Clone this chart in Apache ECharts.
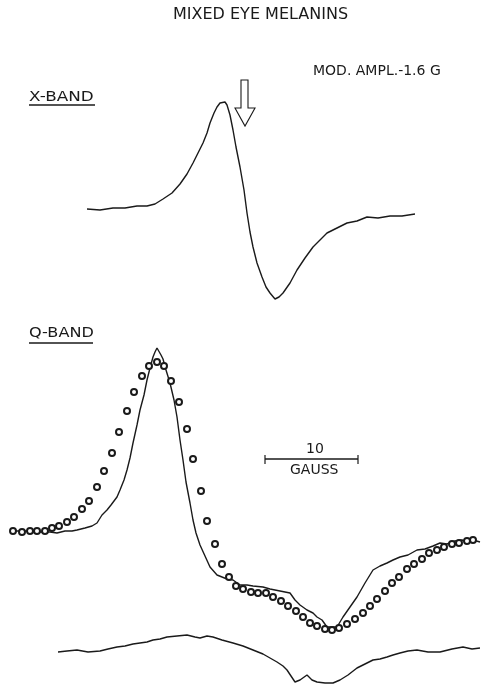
<!DOCTYPE html>
<html>
<head>
<meta charset="utf-8">
<script src="https://cdn.jsdelivr.net/npm/echarts@6/dist/echarts.min.js"></script>
<style>
  html, body { margin: 0; padding: 0; background: #fff; }
  #main { width: 483px; height: 684px; }
</style>
</head>
<body>
<div id="main"></div>
<script>
// traces, in page units (x right, y down)
var xBandX = [87, 100, 113, 125, 137, 147, 155, 163, 172, 180, 187, 193, 198, 203, 207, 210, 214, 217, 220, 222, 225, 227, 230, 233, 236, 240, 244, 247, 250, 253, 257, 262, 266, 270, 275, 279, 283, 290, 297, 305, 313, 320, 327, 337, 347, 357, 367, 378, 390, 402, 415];
var xBandY = [209, 210, 208, 208, 206, 206, 204, 199, 193, 184, 174, 163, 153, 143, 133, 123, 113, 107, 103, 101, 102, 105, 115, 130, 147, 167, 190, 213, 232, 247, 263, 277, 287, 293, 299, 297, 293, 283, 270, 258, 247, 240, 233, 228, 223, 221, 217, 218, 216, 216, 214];

var qBandX = [12, 25, 37, 50, 57, 65, 72, 77, 85, 92, 97, 102, 107, 111, 117, 120, 124, 127, 130, 133, 137, 140, 144, 147, 150, 153, 155, 157, 159, 161, 163, 166, 170, 174, 177, 180, 183, 186, 190, 193, 196, 200, 205, 210, 217, 227, 233, 240, 247, 253, 263, 270, 280, 290, 295, 300, 307, 313, 317, 322, 327, 333, 337, 343, 350, 357, 365, 373, 380, 387, 393, 400, 408, 417, 425, 433, 440, 447, 455, 462, 467, 473, 480];
var qBandY = [531, 531, 532, 532, 533, 531, 531, 530, 528, 526, 523, 515, 510, 505, 497, 490, 480, 470, 458, 443, 425, 410, 395, 380, 368, 357, 352, 348, 350, 355, 359, 370, 383, 400, 417, 440, 460, 482, 503, 520, 533, 545, 556, 567, 575, 579, 580, 585, 585, 586, 587, 589, 591, 593, 600, 605, 610, 613, 617, 620, 627, 627, 627, 617, 607, 597, 583, 570, 566, 563, 560, 557, 555, 550, 549, 546, 543, 544, 541, 540, 542, 540, 542];

var fitX = [13, 22, 30, 37, 45, 52, 59, 67, 74, 82, 89, 97, 104, 112, 119, 127, 134, 142, 149, 157, 164, 171, 179, 187, 193, 201, 207, 215, 222, 229, 236, 243, 251, 258, 266, 273, 281, 288, 296, 303, 310, 317, 325, 332, 339, 347, 355, 363, 370, 377, 385, 392, 399, 407, 414, 422, 429, 437, 444, 452, 459, 467, 473];
var fitY = [531, 532, 531, 531, 531, 528, 526, 522, 517, 509, 501, 487, 471, 453, 432, 411, 392, 376, 366, 362, 366, 381, 402, 429, 459, 491, 521, 544, 564, 577, 586, 589, 592, 593, 593, 597, 601, 606, 611, 617, 623, 626, 629, 630, 628, 624, 619, 613, 606, 599, 591, 583, 577, 569, 564, 559, 553, 550, 547, 544, 543, 541, 540];

var diffX = [58, 67, 77, 88, 100, 108, 117, 125, 133, 140, 147, 153, 160, 167, 177, 187, 195, 200, 207, 213, 222, 233, 243, 253, 263, 270, 277, 283, 287, 291, 295, 300, 307, 312, 317, 325, 333, 340, 348, 357, 365, 373, 380, 387, 393, 400, 408, 417, 428, 440, 452, 463, 472, 480];
var diffY = [652, 651, 650, 652, 651, 649, 647, 646, 644, 643, 642, 640, 639, 637, 636, 635, 637, 638, 636, 637, 640, 643, 646, 650, 654, 658, 662, 666, 670, 676, 682, 680, 675, 680, 682, 683, 683, 680, 675, 668, 664, 660, 659, 657, 655, 653, 651, 650, 652, 652, 649, 647, 649, 648];

var ink = '#1a1a1a';
var font = '"DejaVu Sans", sans-serif';

function pairs(xs, ys) {
  return xs.map(function (x, i) { return [x, ys[i]]; });
}

var chart = echarts.init(document.getElementById('main'));
chart.setOption({
  backgroundColor: '#fff',
  animation: false,
  grid: { left: 0, right: 0, top: 0, bottom: 0 },
  xAxis: { type: 'value', min: 0, max: 483, show: false },
  yAxis: { type: 'value', min: 0, max: 684, inverse: true, show: false },
  series: [
    {
      name: 'X-band', type: 'line', data: pairs(xBandX, xBandY),
      showSymbol: false, lineStyle: { color: ink, width: 1.4 }
    },
    {
      name: 'Q-band', type: 'line', data: pairs(qBandX, qBandY),
      showSymbol: false, lineStyle: { color: ink, width: 1.4 }
    },
    {
      name: 'fit', type: 'scatter', data: pairs(fitX, fitY),
      symbol: 'emptyCircle', symbolSize: 6, z: 3,
      itemStyle: { color: ink, borderWidth: 1.3, opacity: 1 }
    },
    {
      name: 'difference', type: 'line', data: pairs(diffX, diffY),
      showSymbol: false, lineStyle: { color: ink, width: 1.4 }
    }
  ],
  graphic: [
    { type: 'text', left: 173, top: 7,
      style: { text: 'MIXED EYE MELANINS', font: '16px ' + font, fill: ink } },
    { type: 'text', left: 313, top: 64,
      style: { text: 'MOD. AMPL.-1.6 G', font: '14px ' + font, fill: ink } },
    { type: 'text', left: 29, top: 90, scaleX: 1.2,
      style: { text: 'X-BAND', font: '14px ' + font, fill: ink } },
    { type: 'line', shape: { x1: 29, y1: 105, x2: 95, y2: 105 },
      style: { stroke: ink, lineWidth: 1.6 } },
    { type: 'text', left: 29, top: 326, scaleX: 1.15,
      style: { text: 'Q-BAND', font: '14px ' + font, fill: ink } },
    { type: 'line', shape: { x1: 29, y1: 343, x2: 93, y2: 343 },
      style: { stroke: ink, lineWidth: 1.6 } },
    // hollow arrow
    { type: 'polygon',
      shape: { points: [[241, 80], [248, 80], [248, 108], [255, 108], [245, 126], [235, 108], [241, 108]] },
      style: { fill: '#fff', stroke: ink, lineWidth: 1.1 } },
    // 10 gauss scale bar
    { type: 'line', shape: { x1: 265, y1: 459, x2: 358, y2: 459 },
      style: { stroke: ink, lineWidth: 1.3 } },
    { type: 'line', shape: { x1: 265, y1: 455, x2: 265, y2: 464 },
      style: { stroke: ink, lineWidth: 1.2 } },
    { type: 'line', shape: { x1: 358, y1: 455, x2: 358, y2: 464 },
      style: { stroke: ink, lineWidth: 1.2 } },
    { type: 'text', left: 306, top: 442,
      style: { text: '10', font: '14px ' + font, fill: ink } },
    { type: 'text', left: 290, top: 463,
      style: { text: 'GAUSS', font: '14px ' + font, fill: ink } }
  ]
});
</script>
</body>
</html>
